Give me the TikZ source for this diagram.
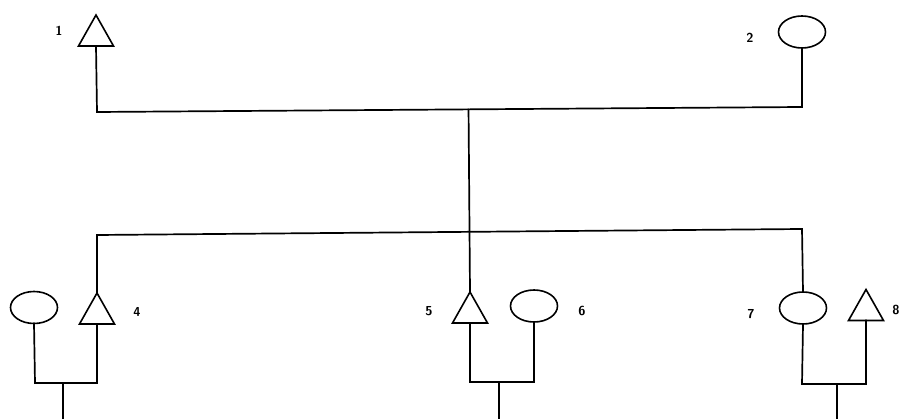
\documentclass[tikz,border=0pt]{standalone}
\usetikzlibrary{calc}
\tikzset{
  line/.style={line width=1.7pt, line cap=rect, black},
  shapeline/.style={line width=1.6pt, black, fill=white},
  lbl/.style={font=\sffamily\bfseries\fontsize{13}{15}\selectfont, inner sep=0pt},
  male/.pic={
    \draw[shapeline, line join=miter] (0,-15.5) -- (17.5,15.5) -- (-17.5,15.5) -- cycle;
    \coordinate (-top) at (0,-15.5);
    \coordinate (-bot) at (0,15.5);
  },
  female/.pic={
    \draw[shapeline] (0,0) ellipse [x radius=23.5, y radius=16];
    \coordinate (-top) at (0,-16);
    \coordinate (-bot) at (0,16);
  }
}
\begin{document}
\begin{tikzpicture}[x=1pt, y=-1pt]
\useasboundingbox (0,0) rectangle (909,419);
% first generation
\pic (p1) at (96,30.5) {male};
\pic (p2) at (802,32) {female};
\node[lbl] (l1) at (59,31) {1};
\node[lbl] (l2) at (750,38) {2};
% marriage line
\coordinate (m1) at (97,112);
\coordinate (m2) at (802,107);
\draw[line] (p1-bot) -- (m1) -- (m2) -- (p2-bot);
\coordinate (mc) at ($(m1)!0.527!(m2)$);
% sibship line
\coordinate (s1) at (97,235);
\coordinate (s2) at (802,229);
\draw[line] (s1) -- (s2);
% children
\pic (p4) at (97,308.5) {male};
\pic (p3) at (34,307.5) {female};
\pic (p5) at (470,307.5) {male};
\pic (p6) at (534,306) {female};
\pic (p7) at (803,308) {female};
\pic (p8) at (866,305) {male};
\node[lbl] (l4) at (137,312) {4};
\node[lbl] (l5) at (429,311) {5};
\node[lbl] (l6) at (582,311) {6};
\node[lbl] (l7) at (751,314) {7};
\node[lbl] (l8) at (896,310) {8};
% descent lines
\draw[line] (mc) -- (p5-top);
\draw[line] (s1) -- (p4-top);
\draw[line] (s2) -- (p7-top);
% couples
\coordinate (c1a) at (35,383);
\coordinate (c1b) at (97,383);
\coordinate (c1m) at (63,383);
\coordinate (c1d) at (63,419);
\draw[line] (p3-bot) -- (c1a) -- (c1b) -- (p4-bot);
\draw[line] (c1m) -- (c1d);
\coordinate (c2a) at (470,382);
\coordinate (c2b) at (534,382);
\coordinate (c2m) at (499,382);
\coordinate (c2d) at (499,419);
\draw[line] (p5-bot) -- (c2a) -- (c2b) -- (p6-bot);
\draw[line] (c2m) -- (c2d);
\coordinate (c3a) at (802,384);
\coordinate (c3b) at (866,384);
\coordinate (c3m) at (837,384);
\coordinate (c3d) at (837,419);
\draw[line] (p7-bot) -- (c3a) -- (c3b) -- (p8-bot);
\draw[line] (c3m) -- (c3d);
\end{tikzpicture}
\end{document}
